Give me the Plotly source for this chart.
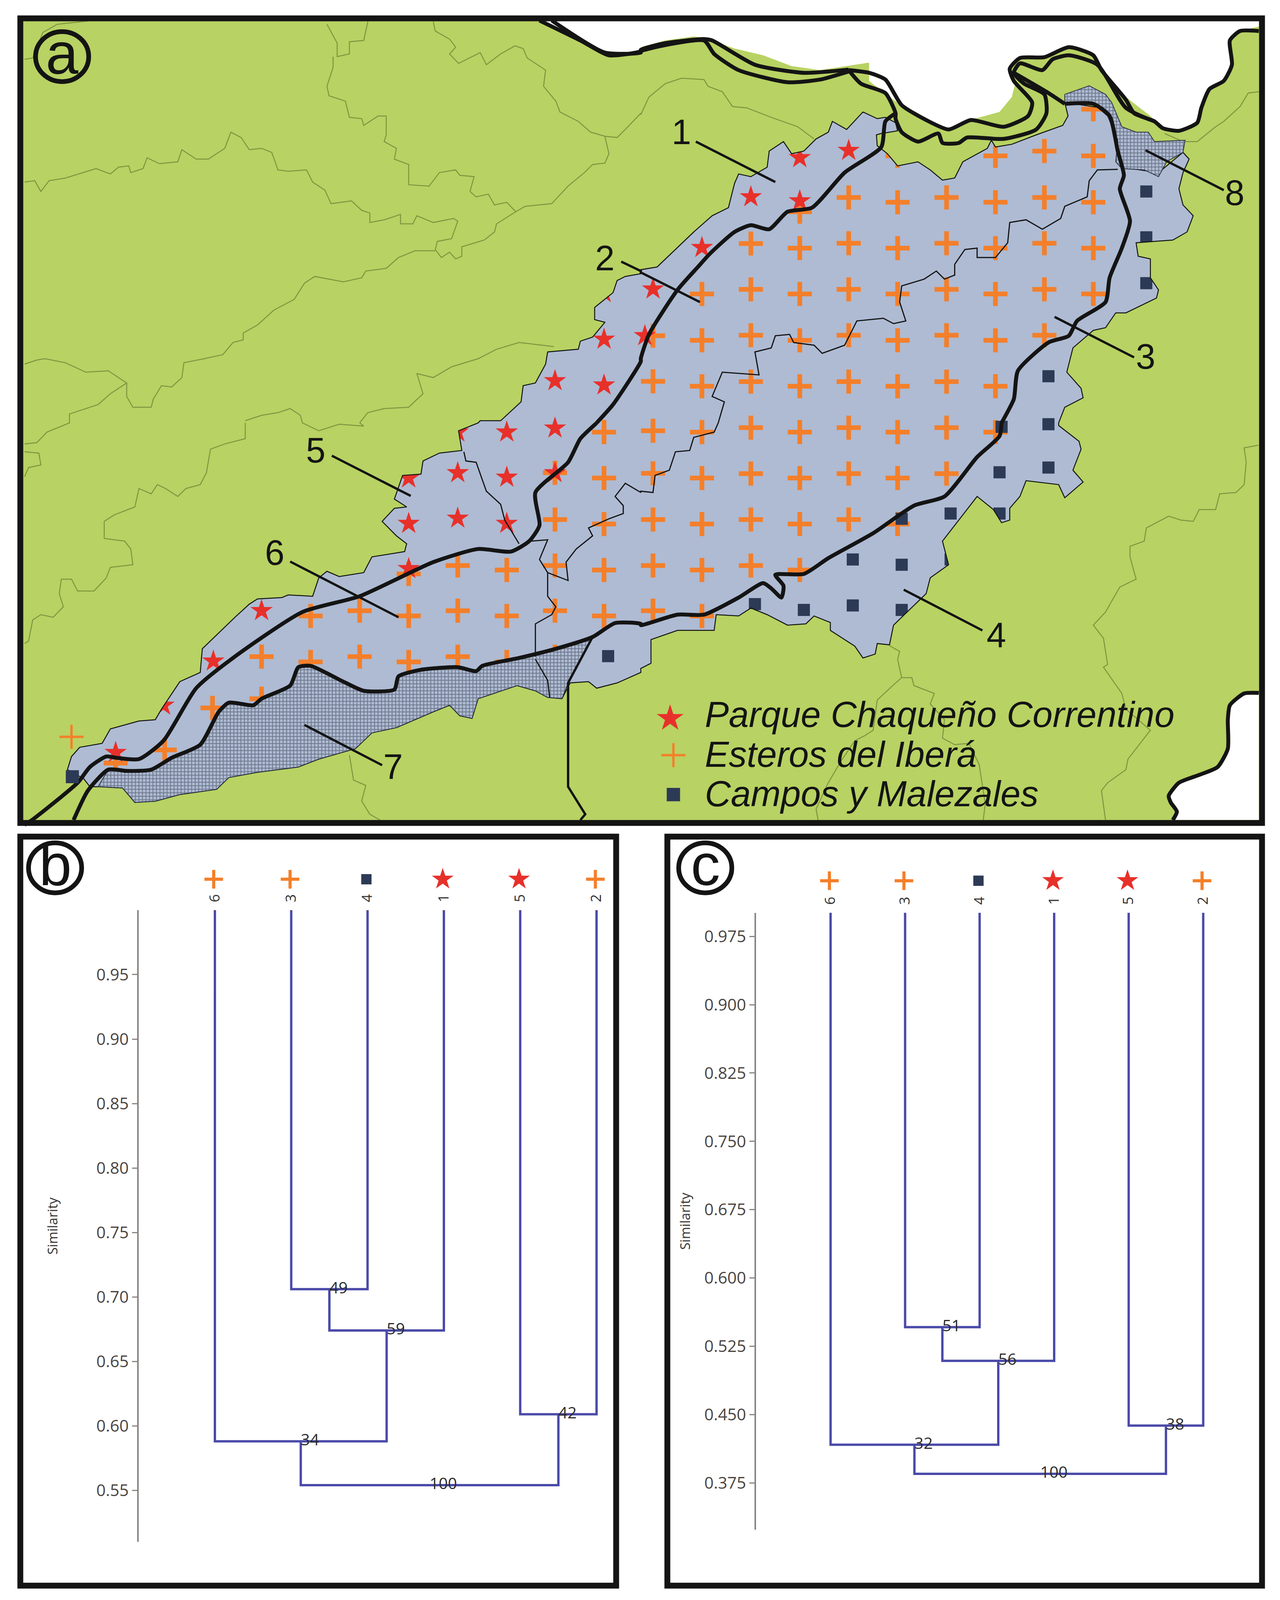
import plotly.graph_objects as go

W, H = 3276, 4351
PAGE_H = 4096  # the browser viewport that is actually photographed

# ---- map geometry (four traced quadrants, converted to page units)
def q1(p): return [(x * 1.046, y * 0.7334) for x, y in p]
def q2(p): return [(1640 + x * 1.0434, y * 0.7334) for x, y in p]
def q3(p): return [(x * 1.046, 1150 + y * 0.7143) for x, y in p]
def q4(p): return [(1640 + x * 1.0434, 1150 + y * 0.7143) for x, y in p]

region_outline = (
    q2([(545,415),(580,440),(600,435),(625,455),(630,485),(590,495),(578,500),(580,540),(605,570),(630,615),(680,600),(710,630),(740,668),(770,660),(790,600),(850,550),(860,520),(870,545),(910,535),(970,500),(1035,465),(1048,430),(1040,380),(1130,400),(1160,460),(1180,620),(1270,640),(1330,565),(1345,590),(1330,640),(1320,700),(1330,760),(1355,800),(1340,860),(1305,890),(1215,900),(1220,950),(1250,960),(1250,1030),(1270,1075),(1265,1105),(1190,1160),(1165,1160),(1140,1215),(1110,1225),(1060,1290),(1045,1380),(1080,1440),(1085,1475),(1040,1510),(1025,1568)])
    + q4([(1025,10),(1075,70),(1080,100),(1060,180),(1085,225),(1040,285),(1025,235),(945,220),(930,280),(905,325),(905,370),(885,380),(865,330),(825,280),(790,350),(740,450),(755,540),(710,590),(700,650),(620,770),(610,845),(580,840),(575,880),(545,895),(525,850),(500,825),(465,790),(465,760),(425,735),(405,765),(360,770),(310,730),(270,705),(240,735),(185,730),(180,790),(90,790),(25,825),(25,915),(0,935)])
    + q3([(1568,950),(1510,990),(1460,1010),(1440,985),(1395,990),(1375,1050),(1340,1045),(1310,1020),(1265,1000),(1170,1050),(1155,1125),(1125,1115),(1100,1075),(1060,1100),(970,1160),(910,1180),(870,1240),(780,1280),(730,1310),(630,1330),(560,1350),(530,1395),(440,1415),(380,1440),(330,1445),(300,1390),(240,1385),(220,1385),(205,1355),(165,1320),(175,1270),(195,1235),(250,1220),(270,1165),(340,1135),(380,1130),(395,1090),(440,985),(490,950),(495,860),(575,740),(610,690),(630,670),(690,665),(705,655),(765,660),(780,590),(800,565),(830,585),(890,570),(910,510),(990,490),(995,460),(970,430),(935,375),(965,325),(995,320),(965,290),(985,200),(1030,195),(1035,145),(1075,115),(1130,105),(1122,30),(1170,0)])
    + q1([(1175,1560),(1225,1560),(1275,1490),(1280,1430),(1310,1420),(1335,1350),(1340,1305),(1415,1295),(1420,1265),(1450,1250),(1480,1195),(1455,1185),(1455,1140),(1500,1085),(1510,1040),(1530,1025),(1568,1015)])
    + q2([(0,1000),(40,990),(130,860),(175,800),(215,770),(230,680),(240,645),(270,655),(310,620),(315,560),(350,525),(370,570),(400,560),(430,515),(460,490),(470,450),(505,480),(545,415)])
)

frame_corners = [(60, 56), (3222, 56), (3222, 2230), (60, 2230), (60, 56)]

white_north = (
    q1([(1320,76),(1360,110),(1420,150),(1480,200),(1510,205),(1568,185)])
    + q2([(0,175),(60,150),(130,135),(160,142),(230,180),(300,205),(370,245),(440,260),(560,232),(560,300),(620,370),(680,430),(755,480),(820,440),(880,415),(910,360),(920,300),(905,255),(915,225),(960,212),(1000,210),(1050,175),(1110,205),(1130,250),(1190,360),(1250,430),(1280,475),(1320,485),(1365,455),(1375,400),(1395,330),(1430,300),(1450,240),(1445,150),(1470,115),(1516,98),(1516,76)])
)
white_southeast = q4([(1516,1028),(1480,1030),(1445,1075),(1440,1130),(1440,1240),(1415,1310),(1370,1340),(1320,1370),(1295,1420),(1300,1445),(1315,1480),(1305,1512),(1516,1512)])

hatch_7 = q3([(1450,820),(1360,860),(1270,895),(1180,925),(1165,945),(1120,930),(1030,940),(975,965),(965,1015),(890,1020),(840,985),(760,925),(730,930),(710,1000),(640,1050),(620,1075),(560,1065),(535,1100),(490,1225),(420,1275),(370,1320),(310,1325),(265,1320),(240,1385),(300,1390),(330,1445),(380,1440),(440,1415),(530,1395),(560,1350),(630,1330),(730,1310),(780,1280),(870,1240),(910,1180),(970,1160),(1060,1100),(1100,1075),(1125,1115),(1155,1125),(1170,1050),(1265,1000),(1310,1020),(1340,1045),(1375,1050),(1390,990),(1450,820)])
hatch_8 = q2([(1040,350),(1100,318),(1140,350),(1155,380),(1180,470),(1215,490),(1245,490),(1260,525),(1335,520),(1330,565),(1290,600),(1270,655),(1235,630),(1180,625),(1165,600),(1170,520),(1145,430),(1110,385),(1040,385),(1040,350)])

river_lines = [
    q1([(1320,76),(1420,150),(1490,205),(1568,190)]) + q2([(0,185),(60,160),(155,145),(175,150),(280,240),(400,270),(510,258)]),
    q1([(1350,76),(1480,195),(1568,195)]) + q2([(0,190),(155,150),(180,200),(240,260),(360,305),(440,295),(510,265)]),
    q2([(510,260),(560,270),(600,295),(640,390),(700,445),(755,480),(810,445),(890,470),(950,430),(960,380),(915,300),(905,255),(930,215),(990,212),(1050,175),(1110,205),(1130,260),(1190,370),(1210,420),(1260,450),(1280,475),(1320,485),(1365,455),(1375,400),(1395,330),(1430,300),(1450,240),(1445,150),(1470,115),(1516,115)]),
    q2([(510,260),(540,310),(600,345),(625,420),(625,440),(640,490),(680,525),(730,495),(740,530),(780,530),(800,510),(890,515),(970,480),(995,420),(990,350),(940,310),(915,270),(930,235),(985,260),(1010,220),(1050,205),(1120,240),(1190,400),(1260,450)]),
    q2([(915,270),(1000,345),(1040,385)]),
    q4([(1516,1028),(1480,1030),(1445,1075),(1440,1130),(1440,1240),(1415,1310),(1370,1340),(1320,1370),(1295,1420),(1300,1445),(1315,1480),(1305,1512)]),
]
divider_1_2 = (
    q2([(625,420),(600,450),(590,545),(500,640),(420,770),(360,785),(315,850),(270,835),(230,860),(170,940),(140,990),(90,1075),(20,1240),(0,1330)])
    + q1([(1568,1340),(1500,1500),(1460,1568)])
    + q3([(1460,0),(1420,60),(1390,150),(1310,265),(1320,390),(1295,450),(1250,490),(1170,480),(1060,530),(880,660),(740,720),(570,895),(480,1010),(400,1210),(340,1280),(285,1275),(260,1270),(220,1310),(190,1370),(80,1510),(60,1530)])
)
divider_3_4 = (
    q2([(1040,385),(1110,385),(1150,430),(1170,560),(1185,650),(1175,700),(1200,820),(1180,920),(1150,1030),(1140,1120),(1070,1190),(1050,1245),(1000,1270),(925,1375),(915,1480),(885,1568)])
    + q4([(885,0),(880,50),(825,130),(745,280),(670,315),(570,420),(460,515),(400,575),(330,578),(350,620),(345,665),(320,630),(300,610),(240,665),(155,730),(90,730),(0,770)])
    + q3([(1568,765),(1505,762),(1450,815),(1360,860),(1270,895),(1180,925),(1165,945),(1120,930),(1030,940),(975,965),(965,1015),(890,1020),(840,985),(760,925),(730,930),(710,1000),(640,1050),(620,1075),(560,1065),(535,1100),(490,1225),(420,1275),(370,1320),(310,1325),(265,1320),(215,1400),(180,1512)])
)
province_line = q3([(1450,815),(1390,990),(1390,1385),(1432,1490),(1420,1512)])

thin_borders = [
    q2([(1170,628),(1120,630),(1100,670),(1095,730),(1040,765),(1030,810),(985,850),(945,815),(905,825),(900,900),(870,955),(825,955),(825,920),(795,925),(770,980),(770,1020),(745,1035),(725,1005),(695,1035),(640,1060),(635,1120),(650,1190),(620,1200),(595,1180),(530,1190),(500,1280),(445,1310),(425,1280),(375,1270),(365,1240),(330,1245),(320,1290),(280,1305),(290,1390),(200,1380),(175,1470),(205,1490),(190,1568)])
    + q4([(190,0),(180,35),(130,55),(120,105),(85,110),(70,180),(35,200),(30,265),(0,260)])
    + q3([(1568,265),(1530,230),(1505,280),(1525,315),(1525,345),(1490,365),(1440,400),(1450,430),(1410,480),(1385,530),(1390,600),(1340,570),(1340,660),(1360,700),(1350,730),(1310,765),(1310,890)]),
    q3([(1300,450),(1340,445),(1320,520),(1340,570)]),
    q3([(1135,110),(1140,145),(1165,150),(1190,260),(1225,310),(1235,370),(1270,460)]),
    q3([(1310,900),(1340,980),(1345,1045)]),
]

olive_lines = [
    q1([(60,220),(80,215),(105,120),(140,90),(215,78)]),
    q1([(800,90),(825,160),(825,210),(855,200),(855,155),(890,150),(900,80)]),
    q1([(815,210),(815,250),(800,320),(805,355),(845,375),(855,435),(885,440),(890,465),(925,430),(945,430),(945,500),(940,525),(970,550),(965,590),(1000,610),(1000,685),(1050,690),(1075,640),(1115,630),(1125,650),(1160,655),(1150,710),(1165,730),(1195,720),(1210,760),(1240,750),(1262,785)]),
    q1([(1060,80),(1065,115),(1100,145),(1115,175),(1100,200),(1122,235),(1175,195),(1190,240),(1225,200),(1260,170),(1280,180),(1290,215),(1335,260),(1330,320),(1360,375),(1370,415),(1415,450),(1430,470),(1445,490),(1480,505),(1510,510),(1530,480),(1568,420)])
    + q2([(0,425),(20,360),(60,310),(100,290),(155,295),(165,320),(200,340),(225,395),(260,400),(320,435),(385,470),(425,515)]),
    q1([(1480,505),(1490,570),(1480,605),(1450,610),(1430,640),(1390,690),(1350,755),(1285,765),(1262,785),(1215,830),(1210,860),(1185,890),(1130,915),(1130,950),(1115,960),(1100,935),(1080,955),(1065,925),(1070,895),(1105,885),(1120,820),(1110,810),(1060,825),(1020,800),(1010,830),(980,830),(980,795),(940,815),(905,825),(905,790),(885,780),(860,745),(810,755),(795,705),(765,675),(750,630),(705,635),(680,630),(665,565),(640,550),(610,555),(590,510),(565,490),(550,550),(510,590),(480,590),(445,555),(435,600),(390,607),(360,585),(350,625),(320,640),(315,615),(290,620),(270,645),(235,625),(160,660),(120,670),(100,710),(85,670),(60,675)]),
    q1([(1065,930),(1015,930),(975,955),(945,995),(895,1005),(885,1030),(840,1045),(770,1025),(745,1050),(720,1110),(670,1150),(630,1205),(595,1235),(595,1260),(570,1270),(545,1315),(500,1330),(450,1345),(445,1400),(420,1435),(395,1430),(375,1480),(370,1510),(325,1510),(310,1470),(310,1420),(265,1375),(210,1380),(160,1345),(110,1330),(90,1335),(60,1350)]),
    q1([(310,1420),(270,1460),(240,1500),(170,1535),(170,1568)]) + q3([(170,0),(115,35),(90,75),(60,80)]),
    q1([(1355,1285),(1270,1270),(1215,1295),(1170,1330),(1105,1360),(1060,1400),(1020,1385),(1035,1460),(1000,1510),(940,1515),(900,1530),(880,1568)]),
    q1([(600,1560),(640,1540),(680,1530),(710,1515),(735,1540),(740,1568)]) + q3([(740,0),(780,30),(830,5),(890,12),(880,0)]),
    q3([(60,110),(95,115),(100,160),(70,170),(60,205)]),
    q3([(600,0),(600,60),(550,80),(515,100),(505,190),(490,235),(455,250),(435,280),(405,250),(385,235),(370,270),(340,250),(330,320),(280,350),(255,375),(255,440),(305,450),(320,480),(325,540),(270,550),(260,590),(230,640),(190,640),(175,595),(150,595),(145,650),(155,700),(130,740),(100,730),(80,750),(70,830),(60,840)]),
    q3([(855,1265),(865,1360),(895,1380),(885,1440),(905,1490),(930,1512)]),
    q4([(1515,85),(1480,95),(1485,150),(1480,235),(1460,265),(1420,270),(1410,330),(1370,330),(1355,375),(1325,370),(1295,355),(1240,400),(1235,450),(1200,470),(1200,510),(1215,595),(1175,625),(1140,720),(1110,770),(1135,820),(1145,920),(1135,930),(1180,1030),(1190,1090),(1250,1170),(1195,1280),(1190,1320),(1145,1370),(1130,1400),(1140,1512)]),
    q4([(610,848),(635,870),(630,900),(640,970),(625,990),(580,1055),(570,1170),(550,1190),(525,1210),(490,1290),(460,1370),(430,1470),(435,1512)]),
    q4([(640,970),(665,970),(670,1000),(720,1030),(710,1070),(745,1130),(740,1200),(770,1225),(805,1220),(830,1300),(845,1450),(840,1512)]),
    q2([(1516,340),(1490,345),(1470,395),(1430,450),(1410,470),(1365,525),(1330,525),(1285,495)]),
]

# ---- map symbols
parque_points = (
    q2([(390,585),(510,558),(270,730),(390,745),(150,918),(30,1072),(10,1245)])
    + q1([(1478,1085),(1478,1258),(1358,1412),(1478,1428)])
    + q3([(1240,35),(1358,20),(1120,35),(1120,190),(1240,207),(1358,190),(1000,210),(1000,383),(1120,363),(1240,383),(1000,555),(640,715),(522,907),(400,1075),(283,1255)])
)
esteros_points = (
    q3([(283,1295),(403,1245),(520,1085),(640,890),(640,1050),(760,735),(760,910),(880,715),(880,890),(1000,575),(1000,735),(1000,910),
        (1120,543),(1120,715),(1120,890),(1240,560),(1240,735),(1240,910),(1358,190),(1358,368),(1358,543),(1358,715),(1358,890),
        (1478,35),(1478,210),(1478,385),(1478,560),(1478,735)])
    + q2([(30,1245),(30,1414),(150,1090),(150,1262),(150,1432),(270,903),(270,1073),(270,1243),(270,1415),
          (390,785),(390,920),(390,1090),(390,1262),(390,1432),(510,732),(510,902),(510,1073),(510,1243),(510,1415),
          (630,578),(630,750),(630,920),(630,1090),(630,1262),(630,1432),(750,732),(750,902),(750,1073),(750,1243),(750,1415),
          (870,578),(870,750),(870,920),(870,1090),(870,1262),(870,1432),(990,560),(990,732),(990,902),(990,1073),(990,1243),
          (1110,405),(1110,578),(1110,750),(1110,920),(1110,1090)])
    + q4([(30,30),(30,192),(30,368),(30,543),(30,715),(150,35),(150,210),(150,385),(150,560),(150,735),
          (270,18),(270,193),(270,368),(270,543),(390,35),(390,210),(390,385),(390,560),
          (510,18),(510,193),(510,368),(630,35),(630,210),(630,385),(750,18),(750,193),(870,35)])
)
campos_points = (
    q2([(1240,710),(1240,880),(1240,1050),(1000,1395)])
    + q4([(1000,5),(885,15),(1000,170),(880,188),(760,345),(640,365),(880,345),(520,520),(640,540),(760,520),(520,695),(640,712),(400,712),(280,690)])
    + q3([(1488,888)])
)
stray_esteros = q3([(175,1195)])
stray_campos = q3([(177,1347)])

legend_names = ["Parque Chaqueño Correntino", "Esteros del Iberá", "Campos y Malezales"]
legend_symbols = q4([(72,1125),(80,1265),(80,1415)])
legend_text_pos = q4([(155,1110),(155,1262),(155,1412)])

region_labels = ["1", "2", "3", "4", "5", "6", "7", "8"]
region_label_pos = q2([(100,490)]) + q1([(1480,957)]) + q2([(1238,1322)]) + q4([(872,808)]) + q3([(772,105),(672,495),(962,1310)]) + q2([(1457,715)])
leader_lines = [
    q2([(135,525),(330,675)]),
    q1([(1520,970),(1568,1005)]) + q2([(0,1010),(145,1120)]),
    q2([(1015,1175),(1210,1325)]),
    q4([(645,635),(838,790)]),
    q3([(812,125),(1005,278)]),
    q3([(710,528),(975,740)]),
    q3([(745,1150),(935,1303)]),
    q2([(1238,557),(1430,705)]),
]

# ---- dendrograms
leaf_labels = ["6", "3", "4", "1", "5", "2"]
leaf_symbols = ["esteros", "esteros", "campos", "parque", "parque", "esteros"]

b_heights = [0.706, 0.674, 0.609, 0.588, 0.554]
b_support = ["49", "59", "42", "34", "100"]
b_ticks = [0.55, 0.60, 0.65, 0.70, 0.75, 0.80, 0.85, 0.90, 0.95]

c_heights = [0.546, 0.509, 0.438, 0.417, 0.385]
c_support = ["51", "56", "38", "32", "100"]
c_ticks = [0.375, 0.450, 0.525, 0.600, 0.675, 0.750, 0.825, 0.900, 0.975]

GREEN, BLUE = "#b8d263", "#aebbd3"
RED, ORANGE, NAVY = "#e8302a", "#f47f2a", "#2c3a56"
BLACK, OLIVE, DENDRO = "#141414", "#7d9440", "#4a4aa8"

fig = go.Figure()

def xy(p):
    return [a for a, _ in p], [b for _, b in p]

def add_line(p, color=BLACK, width=6, smooth=False):
    x, y = xy(p)
    ln = dict(color=color, width=width)
    if smooth:
        ln.update(shape="spline", smoothing=0.6)
    fig.add_trace(go.Scatter(x=x, y=y, mode="lines", line=ln, showlegend=False, hoverinfo="skip", xaxis="x", yaxis="y"))

def add_fill(p, color):
    x, y = xy(p)
    fig.add_trace(go.Scatter(x=x, y=y, mode="lines", fill="toself", fillcolor=color, line=dict(width=0, color=color), showlegend=False, hoverinfo="skip", xaxis="x", yaxis="y"))

def add_symbols(p, kind, scale=1.0, thin=False):
    x, y = xy(p)
    if kind == "parque":
        m = dict(symbol="star", size=43 * scale, color=RED, line=dict(width=0))
    elif kind == "esteros":
        m = dict(symbol="cross-thin", size=44 * scale, line=dict(color=ORANGE, width=6 if thin else 12 * scale))
    else:
        m = dict(symbol="square", size=31 * scale, color=NAVY, line=dict(width=0))
    fig.add_trace(go.Scatter(x=x, y=y, mode="markers", marker=m, showlegend=False, hoverinfo="skip", xaxis="x", yaxis="y"))

# region body and its symbols, then everything outside the region masked back to green
add_fill(region_outline, BLUE)
add_symbols(esteros_points, "esteros")
add_symbols(parque_points, "parque")
add_symbols(campos_points, "campos")
add_fill(frame_corners + region_outline[::-1] + [frame_corners[0]], GREEN)
for line in olive_lines:
    add_line(line, OLIVE, 2.5)
add_fill(white_north, "#ffffff")
add_fill(white_southeast, "#ffffff")
add_line(region_outline, BLACK, 2.5)
for hatch in (hatch_7, hatch_8):
    x, y = xy(hatch)
    fig.add_trace(go.Scatter(x=x, y=y, mode="lines", fill="toself", line=dict(color="#2a3040", width=2),
                             fillpattern=dict(shape="+", size=9, solidity=0.4, fgcolor="#2a3040", bgcolor=BLUE),
                             showlegend=False, hoverinfo="skip", xaxis="x", yaxis="y"))
for line in thin_borders:
    add_line(line, BLACK, 3)
add_line(province_line, BLACK, 6)
add_line(divider_1_2, BLACK, 10, smooth=True)
add_line(divider_3_4, BLACK, 10, smooth=True)
for line in river_lines:
    add_line(line, BLACK, 10, smooth=True)
for line in leader_lines:
    add_line(line, BLACK, 6)
add_symbols(stray_esteros, "esteros", thin=True)
add_symbols(stray_campos, "campos", scale=1.08)
add_symbols(legend_symbols[:1], "parque", scale=1.2)
add_symbols(legend_symbols[1:2], "esteros", thin=True)
add_symbols(legend_symbols[2:], "campos", scale=1.1)

annotations = []
for t, (x, y) in zip(region_labels, region_label_pos):
    annotations.append(dict(x=x, y=y, xref="x", yref="y", text=t, showarrow=False, font=dict(family="Liberation Sans", size=90, color=BLACK)))
for t, (x, y) in zip(legend_names, legend_text_pos):
    annotations.append(dict(x=x, y=y, xref="x", yref="y", text=f"<i>{t}</i>", showarrow=False, xanchor="left", yanchor="middle",
                            font=dict(family="Liberation Sans", size=92, color=BLACK)))

def add_dendrogram(idx, heights, support, ticks, fmt, domx, domy, xrange, yrange, sym_px_y, standoff):
    xa, ya = f"x{idx}", f"y{idx}"
    pos = {lab: i + 1 for i, lab in enumerate(leaf_labels)}
    top = yrange[1]
    a = (pos["3"] + pos["4"]) / 2
    b = (a + pos["1"]) / 2
    e = (pos["5"] + pos["2"]) / 2
    d = (pos["6"] + b) / 2
    r = (d + e) / 2
    h34, h341, h52, h6, hr = heights
    segs = [
        ([pos["3"], pos["3"], pos["4"], pos["4"]], [top, h34, h34, top]),
        ([a, a, pos["1"], pos["1"]], [h34, h341, h341, top]),
        ([pos["5"], pos["5"], pos["2"], pos["2"]], [top, h52, h52, top]),
        ([pos["6"], pos["6"], b, b], [top, h6, h6, h341]),
        ([d, d, e, e], [h6, hr, hr, h52]),
    ]
    for sx, sy in segs:
        fig.add_trace(go.Scatter(x=sx, y=sy, mode="lines", line=dict(color=DENDRO, width=6), showlegend=False,
                                 hoverinfo="skip", xaxis=xa, yaxis=ya))
    fig.add_trace(go.Scatter(x=[a, b, e, d, r], y=heights, mode="text", text=support, textposition="middle right",
                             textfont=dict(family="Open Sans", size=41, color="#2b2b2b"), showlegend=False, hoverinfo="skip",
                             xaxis=xa, yaxis=ya))
    # symbols above the tree sit outside its value range, so they use the page axis
    def leaf_px(i):
        return W * (domx[0] + (i - xrange[0]) / (xrange[1] - xrange[0]) * (domx[1] - domx[0]))
    for i, kind in enumerate(leaf_symbols):
        p = [(leaf_px(i + 1) - 3, sym_px_y)]
        if kind == "esteros":
            fig.add_trace(go.Scatter(x=[p[0][0]], y=[p[0][1]], mode="markers",
                                     marker=dict(symbol="cross-thin", size=34, line=dict(color=ORANGE, width=8)),
                                     showlegend=False, hoverinfo="skip", xaxis="x", yaxis="y"))
        elif kind == "parque":
            add_symbols(p, kind, scale=0.97)
        else:
            add_symbols(p, kind, scale=0.85)
    fig.layout[f"xaxis{idx}"] = dict(domain=domx, range=xrange, anchor=ya, side="top", tickmode="array",
                                     tickvals=list(range(1, 7)), ticktext=leaf_labels, tickangle=-90, ticks="outside", ticklen=12,
                                     tickcolor="rgba(0,0,0,0)", showline=False,
                                     showgrid=False, zeroline=False, tickfont=dict(family="Open Sans", size=36, color="#333333"))
    fig.layout[f"yaxis{idx}"] = dict(domain=domy, range=yrange, anchor=xa, tickmode="array", tickvals=ticks,
                                     ticktext=[fmt % v for v in ticks], ticks="outside", ticklen=13, tickwidth=3, tickcolor="#8a8580",
                                     showline=True, linewidth=4, linecolor="#8a8580", showgrid=False, zeroline=False,
                                     tickfont=dict(family="Open Sans", size=42, color="#4a4440"),
                                     title=dict(text="Similarity", font=dict(family="Open Sans", size=34, color="#333333"), standoff=standoff))

add_dendrogram(2, b_heights, b_support, b_ticks, "%.2f",
               [355 / W, 1560 / W], [1 - 4193 / H, 1 - 2475 / H], [0.002, 6.17], [0.51, 1.0], 2391, 90)
add_dendrogram(3, c_heights, c_support, c_ticks, "%.3f",
               [1935 / W, 3110 / W], [1 - 4160 / H, 1 - 2482 / H], [0.0, 6.16], [0.3236, 1.001], 2395, 27)

panel_letters = ["a", "b", "c"]
panel_centres = [(159, 154), (141, 2360), (1805, 2360)]
panel_radius = 68
shapes = [dict(type="rect", xref="x", yref="y", x0=52, x1=3230, y0=50, y1=2238, fillcolor=GREEN, line=dict(width=0), layer="below")]
for x0, x1, y0, y1 in ((52, 3230, 50, 2238), (52, 1577, 2275, 4312), (1708, 3230, 2275, 4312)):
    shapes.append(dict(type="rect", xref="x", yref="y", x0=x0, x1=x1, y0=y0, y1=y1, line=dict(color=BLACK, width=15), layer="above"))
for t, (cx, cy) in zip(panel_letters, panel_centres):
    shapes.append(dict(type="circle", xref="x", yref="y", x0=cx - panel_radius, x1=cx + panel_radius, y0=cy - panel_radius, y1=cy + panel_radius,
                       line=dict(color=BLACK, width=12), layer="above"))
    annotations.append(dict(x=cx, y=cy - 8, xref="x", yref="y", text=t, showarrow=False, font=dict(family="Liberation Sans", size=150, color=BLACK)))

fig.update_layout(
    width=W, height=PAGE_H, margin=dict(l=0, r=0, t=0, b=0), paper_bgcolor="#ffffff", plot_bgcolor="rgba(0,0,0,0)",
    showlegend=False, shapes=shapes, annotations=annotations,
    xaxis=dict(domain=[0, 1], range=[0, W], visible=False, fixedrange=True),
    yaxis=dict(domain=[0, 1], range=[H, 0], visible=False, fixedrange=True),
)
fig.write_html("out.html", config=dict(displayModeBar=False), post_script="document.body.style.margin='0';")
